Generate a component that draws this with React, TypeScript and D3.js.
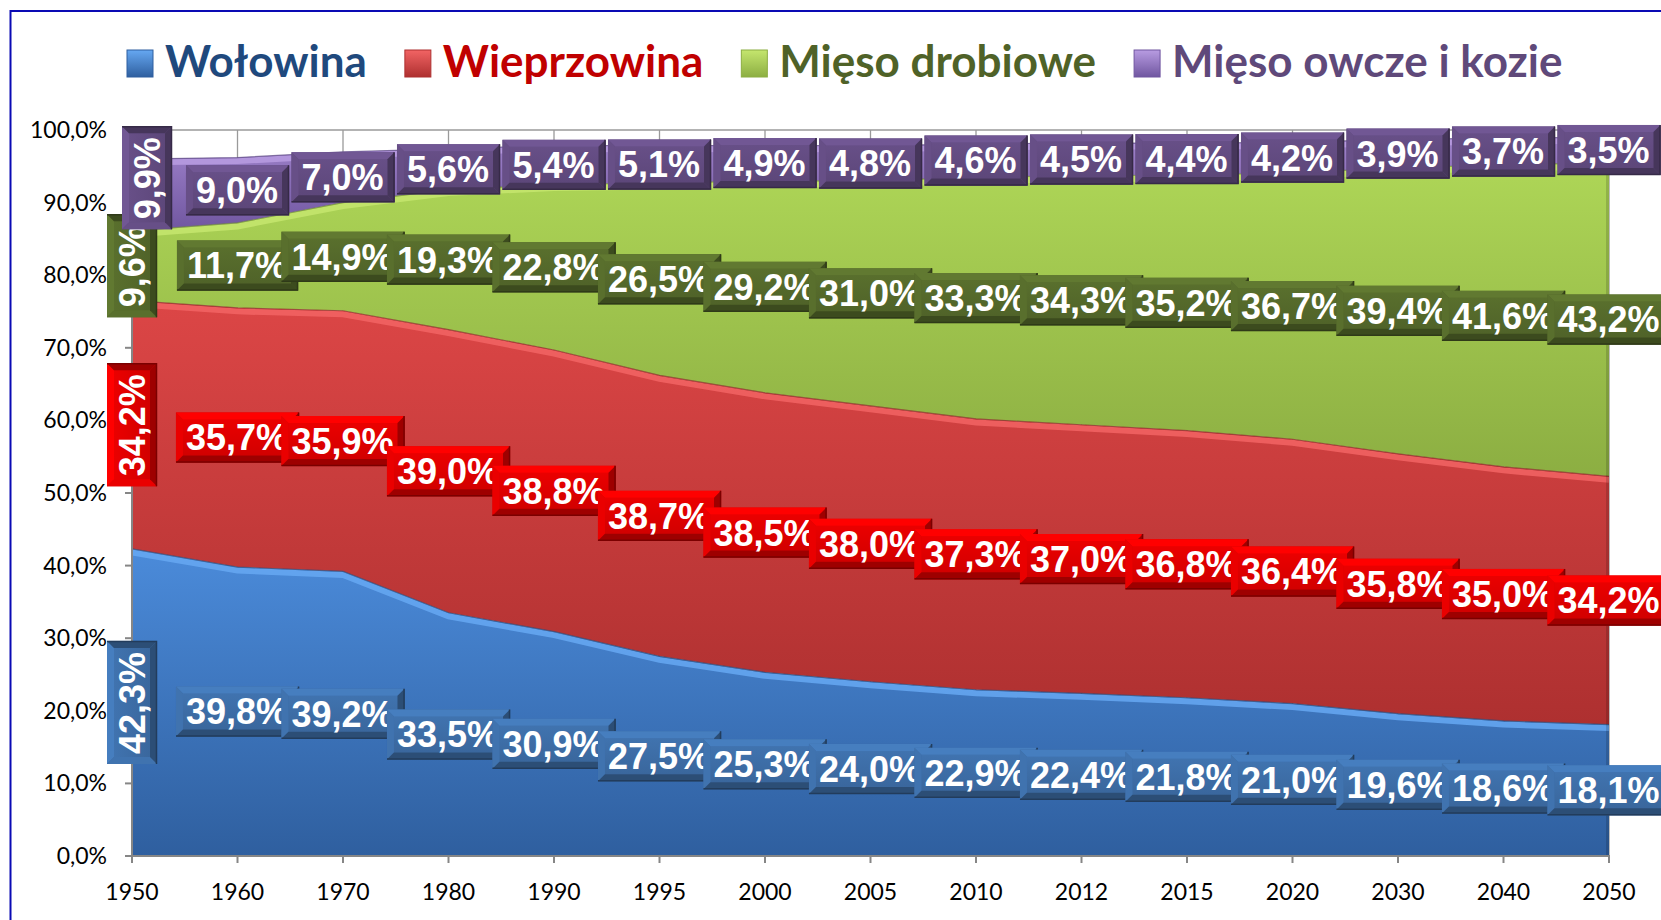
import React, { useMemo } from 'react';
import * as d3 from 'd3';

// lata (kategorie osi X)
const years = ['1950', '1960', '1970', '1980', '1990', '1995', '2000', '2005', '2010', '2012', '2015', '2020', '2030', '2040', '2050'];

// udziały w %
const wolowina = [42.3, 39.8, 39.2, 33.5, 30.9, 27.5, 25.3, 24.0, 22.9, 22.4, 21.8, 21.0, 19.6, 18.6, 18.1];
const wieprzowina = [34.2, 35.7, 35.9, 39.0, 38.8, 38.7, 38.5, 38.0, 37.3, 37.0, 36.8, 36.4, 35.8, 35.0, 34.2];
const drobiowe = [9.6, 11.7, 14.9, 19.3, 22.8, 26.5, 29.2, 31.0, 33.3, 34.3, 35.2, 36.7, 39.4, 41.6, 43.2];
const owcze = [9.9, 9.0, 7.0, 5.6, 5.4, 5.1, 4.9, 4.8, 4.6, 4.5, 4.4, 4.2, 3.9, 3.7, 3.5];

const seriesNames = ['Wołowina', 'Wieprzowina', 'Mięso drobiowe', 'Mięso owcze i kozie'];
const yTicks = [0, 10, 20, 30, 40, 50, 60, 70, 80, 90, 100];

const W = 1661;
const H = 920;
const left = 132;
const right = 1609;
const top = 130;
const bottom = 856;

// kolory: obszar (góra/dół), podświetlenie krawędzi, etykieta, legenda
const styles = [
  { id: 'blue', top: '#4B8BDA', bot: '#2F5F9F', edge: '#66A8F2', face: '#3C6BA3', text: '#1F497D' },
  { id: 'red', top: '#DC4646', bot: '#AE3030', edge: '#F26464', face: '#DA0000', text: '#C00000' },
  { id: 'green', top: '#AED657', bot: '#8CAE42', edge: '#C5E66E', face: '#53672A', text: '#4F6228' },
  { id: 'purple', top: '#A084CC', bot: '#7056A0', edge: '#B89CE2', face: '#604A7E', text: '#5F497A' },
];

const locale = d3.formatLocale({ decimal: ',', thousands: ' ', grouping: [3], currency: ['', ''] });
const fmt = locale.format('.1f');

const labelFont = 'bold 36px "Liberation Sans", Arial, sans-serif';
const legendFont = 'bold 44px Lato, "Open Sans", sans-serif';

let ctx: CanvasRenderingContext2D | null = null;
function measure(text: string, font: string) {
  if (!ctx) ctx = document.createElement('canvas').getContext('2d');
  if (!ctx) return text.length * 18;
  ctx.font = font;
  return ctx.measureText(text).width;
}

function BevelBox({ w, h, s }: { w: number; h: number; s: typeof styles[number] }) {
  const b = 7;
  const face = d3.color(s.face)!;
  const light = face.brighter(0.45).formatHex();
  const mid = face.brighter(0.2).formatHex();
  const dark = face.darker(0.9).formatHex();
  const darker = face.darker(1.6).formatHex();
  return (
    <g>
      <rect x={0} y={0} width={w} height={h} fill={s.face} />
      <rect x={b} y={b} width={w - 2 * b} height={h - 2 * b} fill={`url(#face-${s.id})`} />
      <polygon points={`0,0 ${w},0 ${w - b},${b} ${b},${b}`} fill={light} />
      <polygon points={`0,0 ${b},${b} ${b},${h - b} 0,${h}`} fill={mid} />
      <polygon points={`${w},0 ${w},${h} ${w - b},${h - b} ${w - b},${b}`} fill={dark} />
      <polygon points={`0,${h} ${b},${h - b} ${w - b},${h - b} ${w},${h}`} fill={dark} />
      <polyline points={`0,${h - 0.5} ${w - 0.5},${h - 0.5} ${w - 0.5},0`} fill="none" stroke={darker} strokeWidth={1.5} />
    </g>
  );
}

export default function App() {
  const x = d3.scalePoint<string>().domain(years).range([left, right]);
  const y = d3.scaleLinear().domain([0, 100]).range([bottom, top]);

  const rows = years.map((yr, i) => ({
    year: yr,
    s0: wolowina[i],
    s1: wieprzowina[i],
    s2: drobiowe[i],
    s3: owcze[i],
  }));
  const keys = ['s0', 's1', 's2', 's3'];
  const stacked = d3.stack<any>().keys(keys)(rows);

  const area = d3
    .area<any>()
    .x((d) => x(d.data.year) as number)
    .y0((d) => y(d[0]))
    .y1((d) => y(d[1]));
  const topLine = d3
    .line<any>()
    .x((d) => x(d.data.year) as number)
    .y((d) => y(d[1]));

  // etykiety danych: środek każdego segmentu; w 1950 obrócone pionowo
  const labels = useMemo(() => {
    const out: any[] = [];
    let prevTop: number | null = null;
    stacked.forEach((layer, si) => {
      layer.forEach((d: any, i: number) => {
        const text = fmt(d[1] - d[0]) + '%';
        const tw = measure(text, labelFont);
        const cx = x(d.data.year) as number;
        let cy = y((d[0] + d[1]) / 2);
        const rotated = i === 0;
        let dx = 0;
        if (rotated) {
          const len = tw + 21;
          if (prevTop !== null && cy + len / 2 > prevTop + 15) {
            cy = prevTop + 15 - len / 2;
            dx = 15;
          }
          prevTop = cy - len / 2;
        }
        out.push({ key: `${si}-${i}`, si, text, tw, cx: cx + dx, cy, rotated });
      });
    });
    return out;
  }, []);

  let lx = 127;
  const legend = seriesNames.map((name, i) => {
    const tw = measure(name, legendFont);
    const item = { name, i, x: lx, tw };
    lx += 26 + 12 + tw + 38;
    return item;
  });

  return (
    <div style={{ position: 'absolute', left: 0, top: 0, width: W, height: H, background: '#fff' }}>
      <svg width={W} height={H} style={{ display: 'block' }}>
        <defs>
          {styles.map((s) => (
            <linearGradient key={s.id} id={`area-${s.id}`} x1="0" y1="0" x2="0" y2="1">
              <stop offset="0%" stopColor={s.top} />
              <stop offset="100%" stopColor={s.bot} />
            </linearGradient>
          ))}
          {styles.map((s) => (
            <linearGradient key={s.id} id={`face-${s.id}`} x1="0" y1="0" x2="0" y2="1">
              <stop offset="0%" stopColor={d3.color(s.face)!.brighter(0.2).formatHex()} />
              <stop offset="100%" stopColor={d3.color(s.face)!.darker(0.1).formatHex()} />
            </linearGradient>
          ))}
          {styles.map((s) => (
            <linearGradient key={s.id} id={`leg-${s.id}`} x1="0" y1="0" x2="0" y2="1">
              <stop offset="0%" stopColor={s.edge} />
              <stop offset="100%" stopColor={s.bot} />
            </linearGradient>
          ))}
          <clipPath id="plot">
            <rect x={left} y={top - 2} width={right - left} height={bottom - top + 2} />
          </clipPath>
        </defs>

        <rect x={10.5} y={11} width={W} height={H} fill="none" stroke="#0A0AB4" strokeWidth={2} />

        {/* legenda */}
        {legend.map((it) => (
          <g key={it.name}>
            <rect x={it.x} y={50} width={26} height={27} fill={`url(#leg-${styles[it.i].id})`} stroke={styles[it.i].bot} strokeWidth={1} />
            <text x={it.x + 38} y={77} style={{ font: legendFont }} fill={styles[it.i].text}>
              {it.name}
            </text>
          </g>
        ))}

        {/* siatka */}
        {years.map((yr) => (
          <line key={yr} x1={x(yr)} x2={x(yr)} y1={top} y2={bottom} stroke="#9A9A9A" strokeWidth={1.3} />
        ))}
        {yTicks.map((t) => (
          <line key={t} x1={left} x2={right} y1={y(t)} y2={y(t)} stroke="#9A9A9A" strokeWidth={1.3} />
        ))}

        {/* obszary */}
        <g clipPath="url(#plot)">
          {stacked.map((layer, si) => (
            <path key={si} d={area(layer) as string} fill={`url(#area-${styles[si].id})`} />
          ))}
          {stacked.map((layer, si) => (
            <g key={si}>
              <path d={topLine(layer) as string} fill="none" stroke={styles[si].edge} strokeWidth={6} transform="translate(0,3.5)" opacity={0.85} />
              <path d={topLine(layer) as string} fill="none" stroke={d3.color(styles[si].bot)!.darker(0.6).formatHex()} strokeWidth={1.2} opacity={0.7} />
            </g>
          ))}
          <line x1={right - 1.5} x2={right - 1.5} y1={top} y2={bottom} stroke="#000" strokeOpacity={0.15} strokeWidth={3} />
        </g>

        {/* osie */}
        <line x1={left} x2={left} y1={top} y2={bottom + 1} stroke="#868686" strokeWidth={2} />
        <line x1={left - 7} x2={right + 1} y1={bottom} y2={bottom} stroke="#868686" strokeWidth={2} />
        {yTicks.map((t) => (
          <g key={t}>
            <line x1={left - 7} x2={left} y1={y(t)} y2={y(t)} stroke="#868686" strokeWidth={2} />
            <text x={107} y={y(t)} dy="0.35em" textAnchor="end" style={{ font: '23px Lato, "Open Sans", sans-serif' }} fill="#000">
              {fmt(t)}%
            </text>
          </g>
        ))}
        {years.map((yr) => (
          <g key={yr}>
            <line x1={x(yr)} x2={x(yr)} y1={bottom} y2={bottom + 7} stroke="#868686" strokeWidth={2} />
            <text x={x(yr)} y={900} textAnchor="middle" style={{ font: '23px Lato, "Open Sans", sans-serif' }} fill="#000">
              {yr}
            </text>
          </g>
        ))}

        {/* etykiety danych */}
        {labels.map((l) => {
          const s = styles[l.si];
          const len = l.tw + 21;
          const hh = 50;
          return (
            <g
              key={l.key}
              transform={
                l.rotated
                  ? `translate(${l.cx},${l.cy}) rotate(-90) translate(${-len / 2},${-hh / 2})`
                  : `translate(${l.cx - len / 2},${l.cy - hh / 2})`
              }
            >
              <BevelBox w={len} h={hh} s={s} />
              <text x={10} y={hh / 2} dy="0.36em" style={{ font: labelFont }} fill="#fff">
                {l.text}
              </text>
            </g>
          );
        })}
      </svg>
    </div>
  );
}
